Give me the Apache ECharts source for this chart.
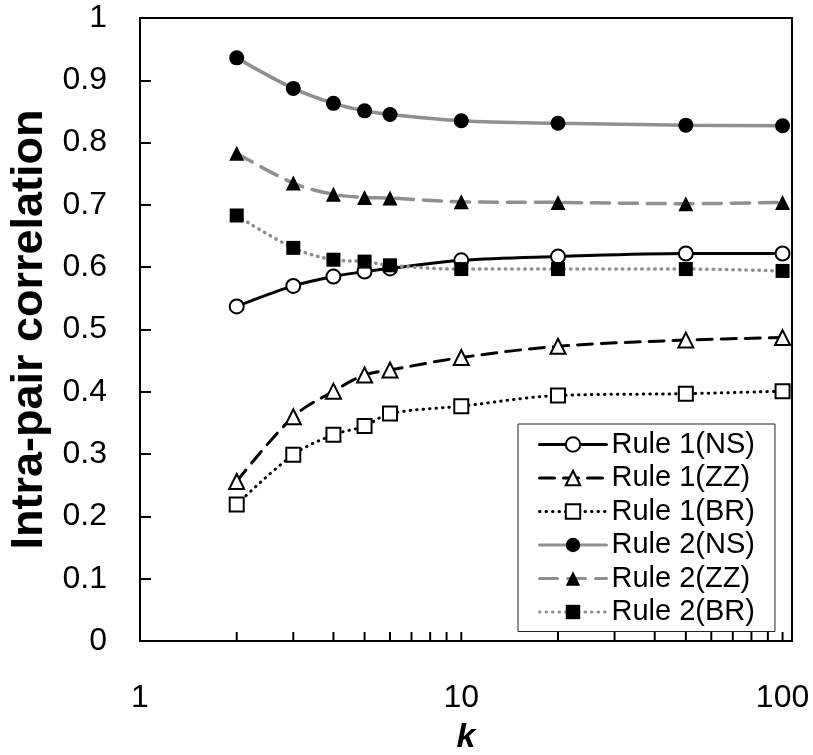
<!DOCTYPE html>
<html>
<head>
<meta charset="utf-8">
<script src="https://cdn.jsdelivr.net/npm/echarts@6/dist/echarts.min.js"></script>
<style>
html,body{margin:0;padding:0;background:#fff;}
#chart{width:813px;height:755px;}
</style>
</head>
<body>
<div id="chart"></div>
<script>
var kValues = [2, 3, 4, 5, 6, 10, 20, 50, 100];
var rule1NS = [0.537, 0.570, 0.585, 0.593, 0.598, 0.611, 0.617, 0.622, 0.622];
var rule1ZZ = [0.256, 0.360, 0.401, 0.427, 0.435, 0.455, 0.473, 0.483, 0.487];
var rule1BR = [0.219, 0.299, 0.331, 0.345, 0.365, 0.377, 0.394, 0.397, 0.401];
var rule2NS = [0.936, 0.887, 0.863, 0.851, 0.845, 0.835, 0.831, 0.828, 0.827];
var rule2ZZ = [0.783, 0.735, 0.717, 0.712, 0.711, 0.705, 0.704, 0.702, 0.704];
var rule2BR = [0.683, 0.631, 0.612, 0.609, 0.603, 0.597, 0.597, 0.597, 0.594];
var seriesNames = ['Rule 1(NS)', 'Rule 1(ZZ)', 'Rule 1(BR)', 'Rule 2(NS)', 'Rule 2(ZZ)', 'Rule 2(BR)'];
var xTickValues = [2, 3, 4, 5, 6, 7, 8, 9, 10, 20, 30, 40, 50, 60, 70, 80, 90, 100];
var xLabelValues = [1, 10, 100];

var FONT = '"Liberation Sans", Arial, sans-serif';
var GRAY = '#8f8f8f';

function pairs(ys) { return kValues.map(function (k, i) { return [k, ys[i]]; }); }

function makeSeries(name, ys, color, width, dash, symbol, size, fill, border) {
  return {
    name: name,
    type: 'line',
    data: pairs(ys),
    smooth: 0.35,
    symbol: symbol,
    symbolSize: size,
    showAllSymbol: true,
    lineStyle: { color: color, width: width, type: dash, cap: 'round' },
    itemStyle: { color: fill, borderColor: border, borderWidth: fill === '#fff' ? 2 : 0 },
    emphasis: { disabled: true },
    z: 3
  };
}

var chart = echarts.init(document.getElementById('chart'), null, { renderer: 'canvas' });
var option = {
  animation: false,
  backgroundColor: '#fff',
  grid: {
    left: 140, top: 18, right: 21, bottom: 114,
    outerBoundsMode: 'none', containLabel: false,
    show: true, borderColor: '#000', borderWidth: 2, backgroundColor: 'transparent'
  },
  legend: {
    data: seriesNames,
    orient: 'vertical',
    left: 518,
    top: 424,
    padding: [6, 20, 5, 20],
    itemGap: 4.5,
    itemWidth: 67,
    itemHeight: 18,
    backgroundColor: '#fff',
    borderColor: '#222',
    borderWidth: 1,
    lineStyle: { width: 3 },
    textStyle: { fontFamily: FONT, fontSize: 29, color: '#000', lineHeight: 29 },
    selectedMode: false
  },
  xAxis: {
    type: 'log',
    logBase: 10,
    min: 1,
    max: 107,
    name: 'k',
    nameLocation: 'middle',
    nameGap: 80,
    nameTextStyle: { fontFamily: FONT, fontSize: 34, fontWeight: 'bold', fontStyle: 'italic', color: '#000' },
    axisLine: { show: true, lineStyle: { color: '#000', width: 2 } },
    axisTick: { show: false },
    splitLine: { show: false },
    axisLabel: {
      margin: 41,
      fontFamily: FONT, fontSize: 32, color: '#000',
      showMaxLabel: false,
      formatter: function (v) {
        for (var i = 0; i < xLabelValues.length; i++) {
          if (Math.abs(v - xLabelValues[i]) < 1e-6) return String(xLabelValues[i]);
        }
        return '';
      }
    }
  },
  yAxis: {
    type: 'value',
    min: 0,
    max: 1,
    interval: 0.1,
    name: 'Intra-pair correlation',
    nameLocation: 'middle',
    nameGap: 86,
    nameTextStyle: { fontFamily: FONT, fontSize: 45, fontWeight: 'bold', color: '#000' },
    axisLine: { show: true, lineStyle: { color: '#000', width: 2 } },
    axisTick: { show: true, inside: true, length: 11, lineStyle: { color: '#000', width: 2 } },
    splitLine: { show: false },
    axisLabel: { margin: 33, fontFamily: FONT, fontSize: 32, color: '#000' }
  },
  series: [
    makeSeries(seriesNames[0], rule1NS, '#000', 3, 'solid', 'circle', 14, '#fff', '#000'),
    makeSeries(seriesNames[1], rule1ZZ, '#000', 3, [15, 9], 'triangle', 15, '#fff', '#000'),
    makeSeries(seriesNames[2], rule1BR, '#000', 3, [0.5, 6], 'rect', 14, '#fff', '#000'),
    makeSeries(seriesNames[3], rule2NS, GRAY, 3.5, 'solid', 'circle', 15, '#000', '#000'),
    makeSeries(seriesNames[4], rule2ZZ, GRAY, 3.5, [18, 10], 'triangle', 15, '#000', '#000'),
    makeSeries(seriesNames[5], rule2BR, GRAY, 3.5, [0.5, 6], 'rect', 14, '#000', '#000'),
    {
      type: 'custom',
      silent: true,
      z: 2,
      data: xTickValues.map(function (v) { return [v, 0]; }),
      renderItem: function (params, api) {
        var p = api.coord([api.value(0), api.value(1)]);
        return {
          type: 'line',
          shape: { x1: p[0], y1: p[1], x2: p[0], y2: p[1] - 9 },
          style: { stroke: '#000', lineWidth: 2 }
        };
      }
    }
  ]
};
chart.setOption(option);
</script>
</body>
</html>
